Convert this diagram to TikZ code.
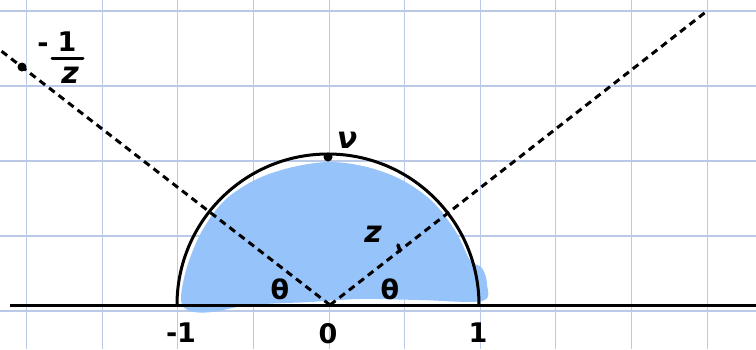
\documentclass[tikz,border=0pt]{standalone}
\usepackage{fontspec}
\setmainfont{DejaVu Sans}
\begin{document}
\begin{tikzpicture}[x=1pt,y=-1pt,
  gridline/.style={draw=gridblue,line width=1.1pt},
  axisline/.style={draw=black,line width=3pt},
  dashline/.style={draw=black,line width=3pt,dash pattern=on 7pt off 5pt},
  dotmark/.style={circle,fill=black,inner sep=0pt,minimum size=9pt},
  lbl/.style={font=\fontsize{27}{27}\selectfont\bfseries,inner sep=0pt},
  lblit/.style={font=\fontsize{30}{30}\selectfont\bfseries\itshape,inner sep=0pt}]
\definecolor{gridblue}{HTML}{B9C9E6}
\definecolor{fillblue}{HTML}{96C3FA}
\useasboundingbox (0,0) rectangle (756,349);
\fill[white] (0,0) rectangle (756,349);
% grid
\foreach \k in {0,...,9} {\draw[gridline] ({26.7+75.6*\k},0) -- ({26.7+75.6*\k},349);}
\foreach \y in {11,86,161,236,311} {\draw[gridline] (0,\y) -- (756,\y);}
% blue blob
\fill[fillblue] plot[smooth cycle,tension=0.55] coordinates {
 (181,300) (187,267) (202,231) (225,200) (257,179) (293,167) (330,162) (367,167)
 (402,180) (433,202) (456,232) (470,260) (482,268) (487,284) (482,301)
 (420,300) (360,299) (310,302) (250,305) (212,312) (190,311)};
% coordinates
\coordinate (O) at (330,305);
\coordinate (L) at (10,305);
\coordinate (R) at (756,305);
\coordinate (UR) at (707,11);
\coordinate (UL) at (0,50);
% semicircle
\draw[line width=3pt] (177,305) arc[start angle=180,end angle=360,radius=151];
% axis
\draw[axisline] (L) -- (R);
% dashed lines
\draw[dashline] (O) -- (UR);
\draw[dashline] (O) -- (UL);
% points
\node[dotmark] (nu) at (328,157) {};
\node[dotmark] (mz) at (22,67) {};
\draw[line width=3.5pt,line cap=round] (398,245) -- (400,251);
\coordinate (zp) at (399,248);
% labels
\node[lblit] (nulab) at (347,140) {ν};
\node[lblit] (zlab) at (373,234) {z};
\node[lbl] (th1) at (280,289) {θ};
\node[lbl] (th2) at (390,289) {θ};
\node[lbl] (m1) at (181,333) {-1};
\node[lbl] (z0) at (328,334) {0};
\node[lbl] (p1) at (478,333) {1};
% -1/z
\node[lbl] (mzminus) at (43,48) {-};
\node[lbl] (mzone) at (67,42) {1};
\draw[line width=3pt,line cap=round] (52,58) -- (83,58);
\coordinate (barL) at (52,58);
\node[lblit] (mzz) at (70,75) {z};
\end{tikzpicture}
\end{document}
